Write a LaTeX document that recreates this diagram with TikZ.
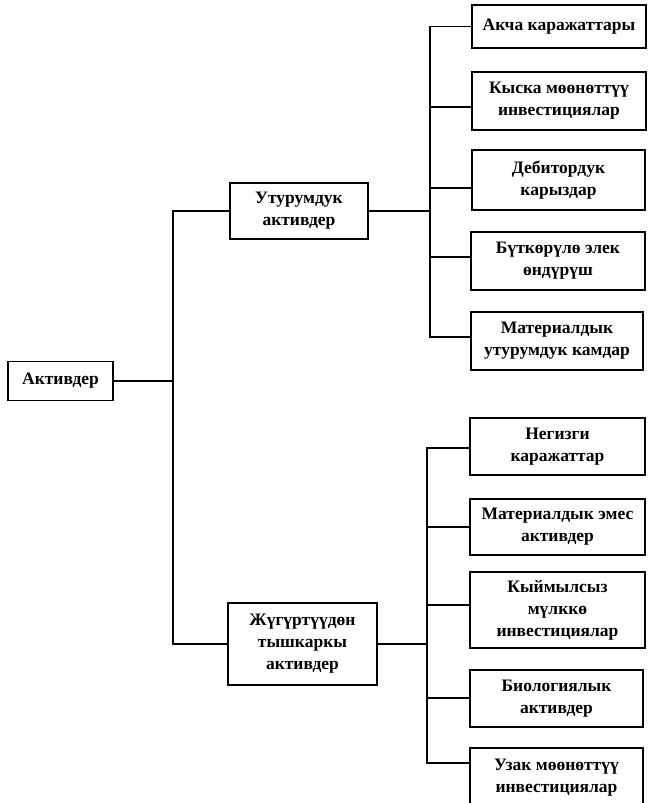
\documentclass[tikz,border=0pt]{standalone}
\usepackage{fontspec}
\setmainfont{Liberation Serif}
\begin{document}
\begin{tikzpicture}[x=1pt,y=-1pt,
  box/.style={draw=black,line width=1.8pt,fill=white,align=center,inner sep=0pt,
    font=\fontsize{17.5}{22}\selectfont\bfseries},
  conn/.style={line width=1.8pt,line cap=rect}]
\useasboundingbox[fill=white] (0,0) rectangle (648,803);
% root
\node[box,minimum width=105pt,minimum height=39pt] (akt) at (60.5,381) {Активдер};
% level 1
\node[box,minimum width=138pt,minimum height=56pt] (utu) at (299,211) {Утурумдук\\активдер};
\node[box,minimum width=149pt,minimum height=82pt] (jug) at (302.5,644) {Жүгүртүүдөн\\тышкаркы\\активдер};
% level 2, current
\node[box,minimum width=174pt,minimum height=43pt] (a1) at (559,26.5) {Акча каражаттары};
\node[box,minimum width=174pt,minimum height=58pt] (a2) at (559,101) {Кыска мөөнөттүү\\инвестициялар};
\node[box,minimum width=173pt,minimum height=60pt] (a3) at (558.5,180) {Дебитордук\\карыздар};
\node[box,minimum width=174pt,minimum height=58pt] (a4) at (558,261) {Бүткөрүлө элек\\өндүрүш};
\node[box,minimum width=172pt,minimum height=58pt] (a5) at (557,341) {Материалдык\\утурумдук камдар};
% level 2, non-current
\node[box,minimum width=175pt,minimum height=57pt] (b1) at (557.5,446.5) {Негизги\\каражаттар};
\node[box,minimum width=175pt,minimum height=56pt] (b2) at (557.5,527) {Материалдык эмес\\активдер};
\node[box,minimum width=175pt,minimum height=76pt] (b3) at (557.5,610) {Кыймылсыз\\мүлккө\\инвестициялар};
\node[box,minimum width=173pt,minimum height=57pt] (b4) at (556.5,698.5) {Биологиялык\\активдер};
\node[box,minimum width=173pt,minimum height=60pt] (b5) at (556.5,778) {Узак мөөнөттүү\\инвестициялар};
% trunks
\coordinate (t0) at (173,381);
\coordinate (t1) at (430,209);
\coordinate (t2) at (427,645);
% root connectors
\draw[conn] (akt.east) -- (t0);
\draw[conn] (utu.west) -- (utu.west -| t0) -- (jug.west -| t0) -- (jug.west);
% current assets
\draw[conn] (utu.east) -- (utu.east -| t1);
\draw[conn] (a1.west) -- (a1.west -| t1) -- ([yshift=4pt]a5.west -| t1) -- ([yshift=4pt]a5.west);
\draw[conn] ([yshift=-6pt]a2.west) -- ([yshift=-6pt]a2.west -| t1);
\draw[conn] ([yshift=-8pt]a3.west) -- ([yshift=-8pt]a3.west -| t1);
\draw[conn] ([yshift=4pt]a4.west) -- ([yshift=4pt]a4.west -| t1);
% non-current assets
\draw[conn] (jug.east) -- (jug.east -| t2);
\draw[conn] ([yshift=-1.5pt]b1.west) -- ([yshift=-1.5pt]b1.west -| t2) -- ([yshift=15pt]b5.west -| t2) -- ([yshift=15pt]b5.west);
\draw[conn] (b2.west) -- (b2.west -| t2);
\draw[conn] ([yshift=5pt]b3.west) -- ([yshift=5pt]b3.west -| t2);
\draw[conn] ([yshift=0.5pt]b4.west) -- ([yshift=0.5pt]b4.west -| t2);
\end{tikzpicture}
\end{document}
